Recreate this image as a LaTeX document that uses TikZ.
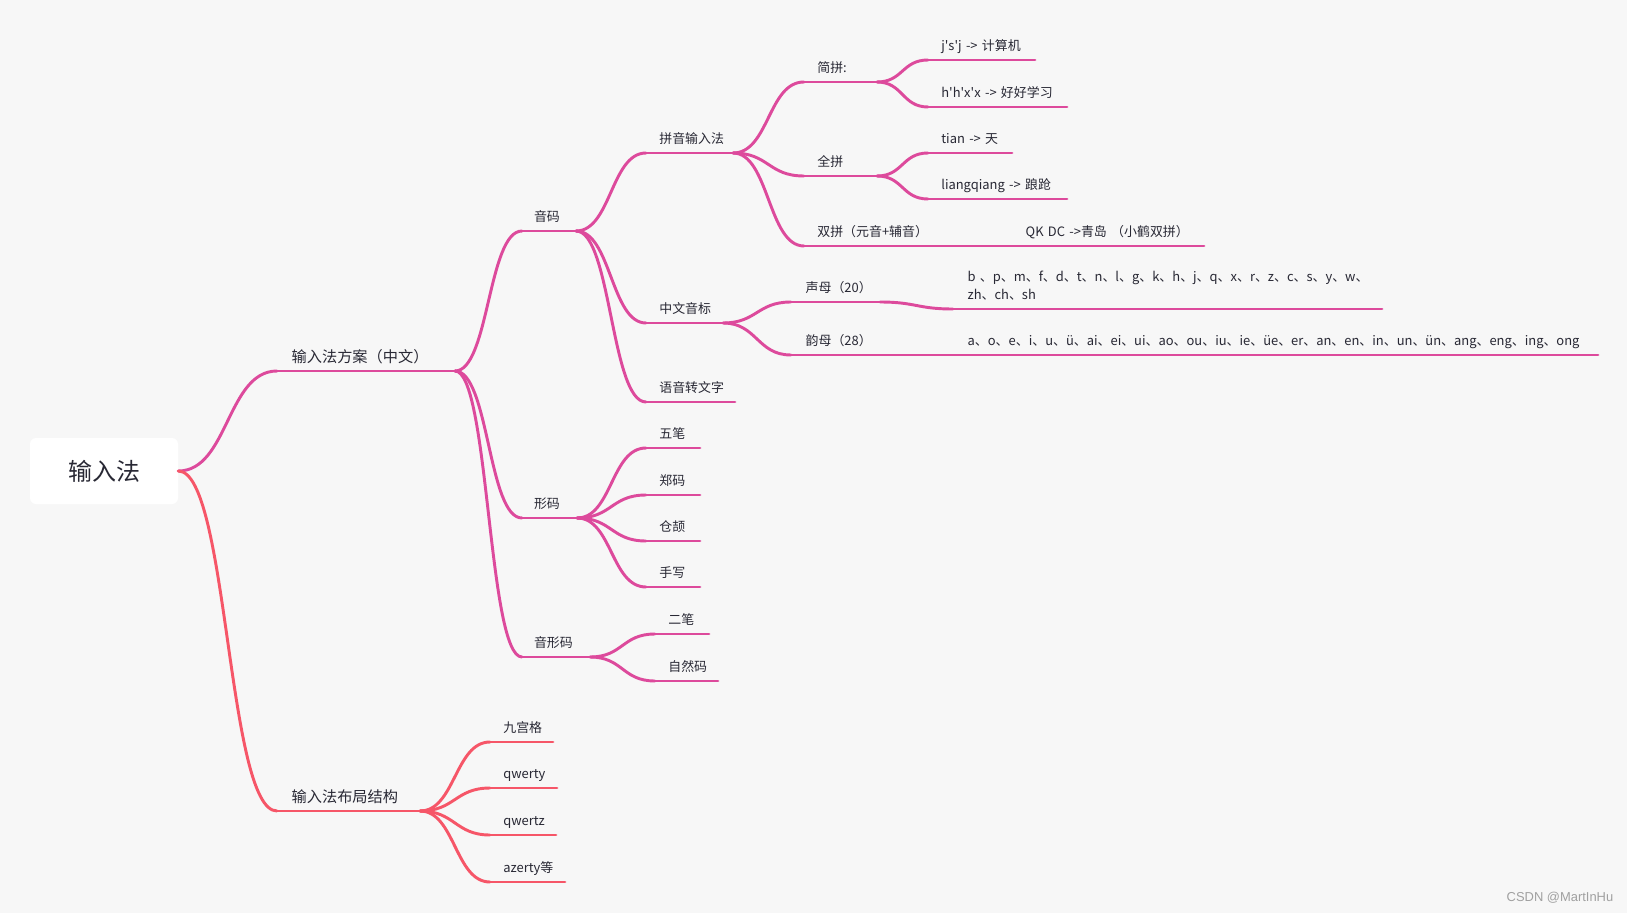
\documentclass[tikz,border=0pt]{standalone}
\usepackage{fontspec}
\setmainfont{Noto Sans CJK SC}
\newfontfamily\wmfont{Liberation Sans}

\definecolor{bgcol}{RGB}{247,247,247}
\definecolor{magbranch}{RGB}{221,74,156}
\definecolor{redbranch}{RGB}{246,86,104}
\definecolor{txtcol}{RGB}{40,40,52}

\newcommand\fsroot{\fontsize{18pt}{22pt}\selectfont}
\newcommand\fsmain{\fontsize{11.4pt}{14pt}\selectfont}
\newcommand\fssub{\fontsize{9.7pt}{13.5pt}\selectfont}

\tikzset{
  rootbox/.style={fill=white, rounded corners=4.5pt, minimum width=111pt,
    minimum height=49.5pt, font=\fsroot, text=txtcol},
  topic/.style={anchor=south west, inner xsep=0pt, inner ysep=4.8pt, outer sep=0pt,
    align=left, text depth=2.4pt, text=txtcol, font=\fssub,
    execute at begin node={\hspace*{#1}}},
  topic/.default=10pt,
  toplevel/.style={font=\fsmain, inner ysep=3.3pt, text depth=2.9pt},
  ulen/.style={text width={#1*0.75pt}},
  mm/.style={line width=2.2pt, line cap=round,
    to path={.. controls +(#1,0) and +(-#1,0) .. (\tikztotarget)}},
  mm/.default=35,
  uline/.style={line width=2.2pt, line cap=round},
}

\begin{document}
\begin{tikzpicture}[x=0.75pt,y=-0.75pt]
\fill[bgcol] (0,0) rectangle (1627,913);
\useasboundingbox (0,0) rectangle (1627,913);

\node[rootbox] (root) at (104,471) {输入法};

% main branches
\node[topic=11pt, toplevel, ulen=178] (fangan) at (277,371) {输入法方案（中文）};
\node[topic=11pt, toplevel, ulen=143] (buju) at (277,811) {输入法布局结构};

% 输入法方案
\node[topic=9pt, ulen=54] (yinma) at (522,231) {音码};
\node[topic=9pt, ulen=55] (xingma) at (522,518) {形码};
\node[topic=9pt, ulen=68] (yinxing) at (522,657) {音形码};

\node[topic, ulen=87] (pinyin) at (646,153) {拼音输入法};
\node[topic, ulen=77] (yinbiao) at (646,323) {中文音标};
\node[topic, ulen=89] (yuyin) at (646,402) {语音转文字};

\node[topic, ulen=54] (wubi) at (646,448) {五笔};
\node[topic, ulen=54] (zhengma) at (646,495) {郑码};
\node[topic, ulen=54] (cangjie) at (646,541) {仓颉};
\node[topic, ulen=54] (shouxie) at (646,587) {手写};

\node[topic, ulen=54] (erbi) at (655,634) {二笔};
\node[topic, ulen=63] (ziran) at (655,681) {自然码};

\node[topic, ulen=73] (jianpin) at (804,82) {简拼:};
\node[topic, ulen=73] (quanpin) at (804,176) {全拼};
\node[topic, ulen=139] (shuangpin) at (804,246) {双拼（元音+辅音）};

\node[topic=11pt, ulen=89] (shengmu) at (791,302) {声母（20）};
\node[topic=11pt, ulen=89] (yunmu) at (791,355) {韵母（28）};

\node[topic, ulen=107] (jsj) at (928,60) {j\textquotesingle s\textquotesingle j -> 计算机};
\node[topic, ulen=139] (hhxx) at (928,107) {h\textquotesingle h\textquotesingle x\textquotesingle x -> 好好学习};
\node[topic, ulen=84] (tian) at (928,153) {tian -> 天};
\node[topic, ulen=139] (liang) at (928,199) {liangqiang -> 踉跄};
\node[topic=62pt, ulen=261] (qkdc) at (943,246) {QK DC ->青岛 （小鹤双拼）};

\node[topic=11pt, ulen=429, text depth=15.9pt] (sheng) at (953,309)
  {b 、p、m、f、d、t、n、l、g、k、h、j、q、x、r、z、c、s、y、w、\\\hspace*{11pt}zh、ch、sh};
\node[topic=11pt, ulen=645] (yun) at (953,355)
  {a、o、e、i、u、ü、ai、ei、ui、ao、ou、iu、ie、üe、er、an、en、in、un、ün、ang、eng、ing、ong};

% 输入法布局结构
\node[topic, ulen=63] (jiugong) at (490,742) {九宫格};
\node[topic, ulen=67] (qwerty) at (490,788) {qwerty};
\node[topic, ulen=66] (qwertz) at (490,835) {qwertz};
\node[topic, ulen=75] (azerty) at (490,882) {azerty等};

% underlines
\foreach \n in {fangan,yinma,xingma,yinxing,pinyin,yinbiao,yuyin,wubi,zhengma,cangjie,
  shouxie,erbi,ziran,jianpin,quanpin,shuangpin,shengmu,yunmu,jsj,hhxx,tian,liang,qkdc,sheng,yun}
  \draw[magbranch, uline] (\n.south west) -- (\n.south east);
\foreach \n in {buju,jiugong,qwerty,qwertz,azerty}
  \draw[redbranch, uline] (\n.south west) -- (\n.south east);

% connectors
\draw[magbranch, mm=50] (root.east) to (fangan.south west);
\draw[redbranch, mm=50] (root.east) to (buju.south west);
\foreach \a/\b/\k in {fangan/yinma/34, fangan/xingma/34, fangan/yinxing/34,
  yinma/pinyin/35, yinma/yinbiao/35, yinma/yuyin/35,
  xingma/wubi/35, xingma/zhengma/35, xingma/cangjie/35, xingma/shouxie/35,
  yinxing/erbi/33, yinxing/ziran/33,
  pinyin/jianpin/36, pinyin/quanpin/36, pinyin/shuangpin/36,
  yinbiao/shengmu/34, yinbiao/yunmu/34,
  jianpin/jsj/26, jianpin/hhxx/26, quanpin/tian/26, quanpin/liang/26,
  shuangpin/qkdc/1, shengmu/sheng/36, yunmu/yun/36}
  \draw[magbranch, mm=\k] (\a.south east) to (\b.south west);
\foreach \b in {jiugong,qwerty,qwertz,azerty}
  \draw[redbranch, mm=35] (buju.south east) to (\b.south west);

\node[font=\wmfont\fontsize{9.7pt}{12pt}\selectfont, text={rgb,255:red,160;green,160;blue,160}]
  (mark) at (1560,898) {CSDN @MartInHu};
\end{tikzpicture}
\end{document}
